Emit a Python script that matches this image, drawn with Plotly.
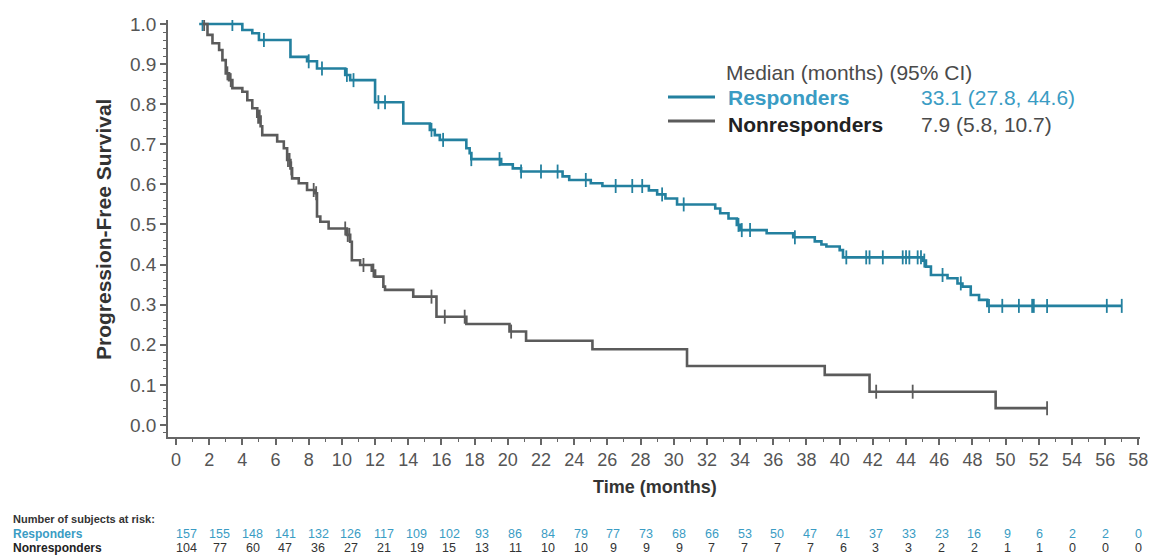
import numpy as np
import plotly.graph_objects as go

# ---------------- data ----------------
resp_t = [1.4, 4.0, 4.6, 5.0, 6.9, 7.9, 8.5, 10.2, 10.5, 12.0, 13.7, 15.3, 15.6, 15.9,
          17.5, 17.7, 17.8, 19.6, 20.3, 20.8, 23.3, 23.7, 25.0, 25.7, 28.5, 29.0, 29.5,
          30.2, 32.5, 32.8, 33.3, 33.8, 34.0, 35.6, 37.2, 38.5, 38.9, 39.2, 40.0, 40.2,
          45.0, 45.2, 45.5, 46.5, 47.1, 47.4, 47.9, 48.4, 48.9, 57.0]
resp_s = [1.0, 0.985, 0.977, 0.96, 0.918, 0.907, 0.889, 0.873, 0.86, 0.805, 0.752, 0.736,
          0.723, 0.711, 0.69, 0.678, 0.663, 0.65, 0.64, 0.632, 0.62, 0.611, 0.603, 0.596,
          0.585, 0.575, 0.565, 0.55, 0.54, 0.528, 0.515, 0.499, 0.486, 0.478, 0.468, 0.458,
          0.45, 0.445, 0.436, 0.418, 0.41, 0.395, 0.374, 0.366, 0.353, 0.345, 0.324, 0.312,
          0.297, 0.297]
resp_cens = [1.6, 3.4, 5.3, 8.0, 8.8, 10.3, 10.7, 12.2, 12.6, 15.4, 16.1, 17.8, 19.5, 20.8,
             22.0, 23.0, 24.7, 26.5, 27.5, 28.1, 29.3, 30.6, 33.9, 34.1, 34.6, 37.3, 40.4,
             41.6, 41.8, 42.6, 43.8, 44.0, 44.2, 44.7, 44.9, 45.1, 46.2, 47.3, 49.0, 49.8,
             50.8, 51.6, 51.7, 52.5, 56.1, 57.0]

non_t = [1.6, 1.9, 2.2, 2.6, 2.8, 3.0, 3.2, 3.4, 4.0, 4.3, 4.6, 4.9, 5.1, 5.2, 6.1, 6.5,
         6.7, 6.9, 7.0, 7.4, 7.9, 8.4, 8.5, 8.7, 9.2, 10.3, 10.5, 10.6, 11.1, 11.8, 12.0,
         12.5, 12.6, 14.3, 15.7, 17.5, 20.1, 21.1, 25.1, 30.8, 39.1, 41.8, 49.4, 52.5]
non_s = [1.0, 0.973, 0.952, 0.935, 0.91, 0.877, 0.86, 0.84, 0.831, 0.81, 0.79, 0.769,
         0.745, 0.723, 0.707, 0.69, 0.661, 0.64, 0.615, 0.603, 0.586, 0.578, 0.52, 0.507,
         0.49, 0.474, 0.457, 0.411, 0.399, 0.385, 0.37, 0.345, 0.337, 0.32, 0.27, 0.252,
         0.233, 0.21, 0.189, 0.147, 0.125, 0.083, 0.042, 0.042]
non_cens = [1.7, 3.1, 3.3, 4.95, 5.05, 6.75, 6.85, 6.95, 8.3, 8.45, 10.2, 10.35, 10.45,
            11.3, 11.9, 15.4, 16.2, 17.4, 20.2, 42.2, 44.4, 52.5]

risk_times = list(range(0, 59, 2))
risk_resp = [157, 155, 148, 141, 132, 126, 117, 109, 102, 93, 86, 84, 79, 77, 73, 68, 66,
             53, 50, 47, 41, 37, 33, 23, 16, 9, 6, 2, 2, 0]
risk_non = [104, 77, 60, 47, 36, 27, 21, 19, 15, 13, 11, 10, 10, 9, 9, 9, 7, 7, 7, 7, 6,
            3, 3, 2, 2, 1, 1, 0, 0, 0]

TEAL_LINE = "#23809f"
TEAL_TEXT = "#3a9cc4"
GRAY_LINE = "#5b5b5b"
TXT = "#4a4a4a"
FONT = "Liberation Sans, Arial, sans-serif"


def step_at(ts, ss, x):
    i = np.searchsorted(np.array(ts), x, side="right") - 1
    i = np.clip(i, 0, len(ss) - 1)
    return [ss[k] for k in np.atleast_1d(i)]


fig = go.Figure()
for ts, ss, cens, col in [(resp_t, resp_s, resp_cens, TEAL_LINE),
                          (non_t, non_s, non_cens, GRAY_LINE)]:
    fig.add_trace(go.Scatter(x=ts, y=ss, mode="lines", line=dict(color=col, width=2.6, shape="hv"),
                             showlegend=False, hoverinfo="skip"))
    fig.add_trace(go.Scatter(x=cens, y=step_at(ts, ss, cens), mode="markers",
                             marker=dict(symbol="line-ns", size=10, line=dict(color=col, width=1.8)),
                             showlegend=False, hoverinfo="skip"))

L, R, T, B = 168, 1140, 20, 437
W, H = 1152, 557


def px(x):
    return (x - L) / (R - L)


def py(y):
    return (B - y) / (B - T)


ann = []
# legend block
ann.append(dict(x=px(724), y=py(72), text="Median (months) (95% CI)", font=dict(size=21, color=TXT)))
ann.append(dict(x=px(726), y=py(98), text="<b>Responders</b>", font=dict(size=21, color=TEAL_TEXT)))
ann.append(dict(x=px(919), y=py(98), text="33.1 (27.8, 44.6)", font=dict(size=21, color=TEAL_TEXT)))
ann.append(dict(x=px(726), y=py(124), text="<b>Nonresponders</b>", font=dict(size=21, color="#222222")))
ann.append(dict(x=px(919), y=py(124), text="7.9 (5.8, 10.7)", font=dict(size=21, color=TXT)))
# axis titles
ann.append(dict(x=px(655), y=py(487), text="<b>Time (months)</b>", font=dict(size=18, color="#333"),
                xanchor="center"))
ann.append(dict(x=px(103), y=py(230), text="<b>Progression-Free Survival</b>", textangle=-90,
                font=dict(size=21, color="#333"), xanchor="center"))
# risk table
ann.append(dict(x=px(11), y=py(519), text="<b>Number of subjects at risk:</b>", font=dict(size=11, color="#333")))
ann.append(dict(x=px(11), y=py(534), text="<b>Responders</b>", font=dict(size=12, color=TEAL_TEXT)))
ann.append(dict(x=px(11), y=py(548), text="<b>Nonresponders</b>", font=dict(size=12, color="#222")))
for a in ann:
    a.setdefault("xanchor", "left")
    a.update(xref="paper", yref="paper", yanchor="middle", showarrow=False)
n = len(risk_times)
for i, (t, r, m) in enumerate(zip(risk_times, risk_resp, risk_non)):
    sh = 11 - 11 * i / (n - 1)
    ann.append(dict(x=t, y=py(534), xref="x", yref="paper", text=str(r), showarrow=False,
                    xanchor="center", yanchor="middle", xshift=sh, font=dict(size=12.5, color=TEAL_TEXT)))
    ann.append(dict(x=t, y=py(548), xref="x", yref="paper", text=str(m), showarrow=False,
                    xanchor="center", yanchor="middle", xshift=sh, font=dict(size=12.5, color="#333")))

shapes = [
    dict(type="line", xref="paper", yref="paper", x0=px(668), x1=px(715), y0=py(97), y1=py(97),
         line=dict(color=TEAL_LINE, width=3)),
    dict(type="line", xref="paper", yref="paper", x0=px(668), x1=px(715), y0=py(121), y1=py(121),
         line=dict(color=GRAY_LINE, width=3)),
]

fig.update_layout(
    width=W, height=H,
    margin=dict(l=L, r=W - R, t=T, b=H - B, autoexpand=False),
    plot_bgcolor="white", paper_bgcolor="white",
    font=dict(family=FONT, color=TXT),
    annotations=ann, shapes=shapes,
    xaxis=dict(range=[-0.48, 58.1], tickmode="array", tickvals=risk_times,
               ticks="outside", ticklen=6, tickwidth=1.5, tickcolor="#666",
               showline=True, linecolor="#666", linewidth=1.5, showgrid=False, zeroline=False,
               tickfont=dict(size=18, color="#555"),
               minor=dict(dtick=1, tick0=0, ticks="outside", ticklen=3, tickcolor="#666", tickwidth=1.2)),
    yaxis=dict(range=[-0.03, 1.01], tickmode="linear", tick0=0, dtick=0.1, tickformat=".1f",
               ticks="outside", ticklen=6, tickwidth=1.5, tickcolor="#666",
               showline=True, linecolor="#666", linewidth=1.5, showgrid=False, zeroline=False,
               tickfont=dict(size=19, color="#555"),
               minor=dict(dtick=0.02, tick0=0, ticks="outside", ticklen=3, tickcolor="#666", tickwidth=1.2)),
)

fig.write_html("out.html", config={"displayModeBar": False},
               post_script="document.body.style.margin='0';document.body.style.overflow='hidden';")
